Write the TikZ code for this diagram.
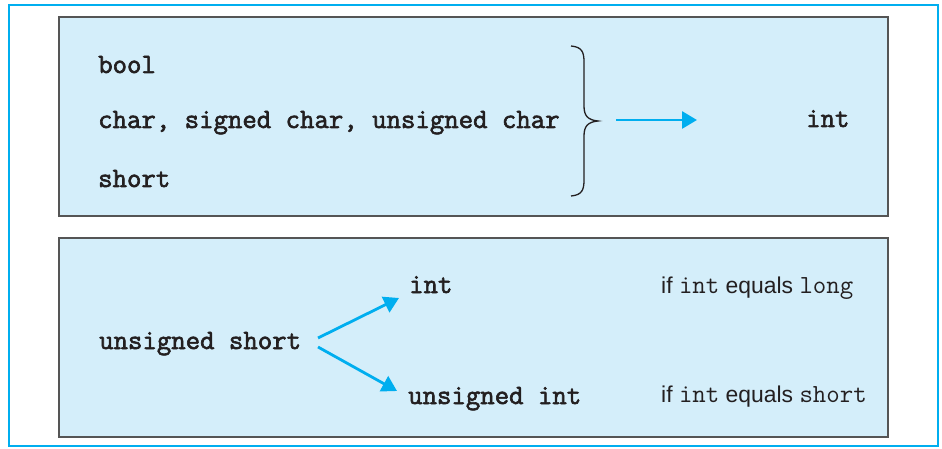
\documentclass[tikz,border=0pt]{standalone}
\usepackage{fontspec}
\setmainfont{Liberation Sans}
\newfontfamily\codefont{Latin Modern Mono}[FakeBold=2.2]
\usetikzlibrary{arrows.meta}
\definecolor{boxfill}{RGB}{212,238,250}
\definecolor{cyanline}{RGB}{0,174,239}
\definecolor{boxedge}{RGB}{85,85,85}
\definecolor{ink}{RGB}{35,31,32}
\tikzset{
  codebig/.style={anchor=base west, inner sep=0pt, text=ink, font=\fontsize{28}{30}\selectfont\codefont},
  cond/.style={anchor=base west, inner sep=0pt, text=ink, font=\fontsize{22.9}{26}\selectfont},
  panel/.style={draw=boxedge, fill=boxfill, line width=1.4pt},
  conv/.style={draw=cyanline, line width=2.8pt, -{Triangle[length=15pt,width=17pt]}, shorten >=0pt},
  bracestyle/.style={draw=ink, line width=1.3pt}
}
\newcommand{\cd}[1]{{\fontsize{26.1}{27}\selectfont\ttfamily #1}}
\begin{document}
\begin{tikzpicture}[x=1pt,y=-1pt]
\useasboundingbox (0,0) rectangle (942,449);
\fill[white] (0,0) rectangle (942,449);
\draw[cyanline, line width=2pt] (9,5) rectangle (938,446);
% panels
\draw[panel] (59,17) rectangle (888,216);
\draw[panel] (59,238) rectangle (888,437);
% top panel texts
\node[codebig] (bool) at (98,73) {bool};
\node[codebig] (chars) at (98,128) {char, signed char, unsigned char};
\node[codebig] (short) at (98,187) {short};
\node[codebig] (intA) at (806,127) {int};
% brace
\draw[bracestyle] (571,46) .. controls (582,47) and (584,52) .. (584,62) -- (584,106)
  .. controls (584,116) and (588,120) .. (598,121)
  .. controls (588,122) and (584,126) .. (584,136) -- (584,180)
  .. controls (584,190) and (582,195) .. (571,196);
\coordinate (brTip) at (616,120);
\coordinate (arTip) at (697,120);
\draw[conv] (brTip) -- (arTip);
% bottom panel texts
\node[codebig] (ushort) at (99,349) {unsigned short};
\node[codebig] (intB) at (409,293) {int};
\node[codebig] (uint) at (408,404) {unsigned int};
\node[cond] (c1) at (661,293) {if \cd{int} equals \cd{long}};
\node[cond] (c2) at (661,402) {if \cd{int} equals \cd{short}};
\coordinate (s1) at (318,338);
\coordinate (e1) at (399,298);
\coordinate (s2) at (318,347);
\coordinate (e2) at (397,391);
\draw[conv] (s1) -- (e1);
\draw[conv] (s2) -- (e2);
\end{tikzpicture}
\end{document}
